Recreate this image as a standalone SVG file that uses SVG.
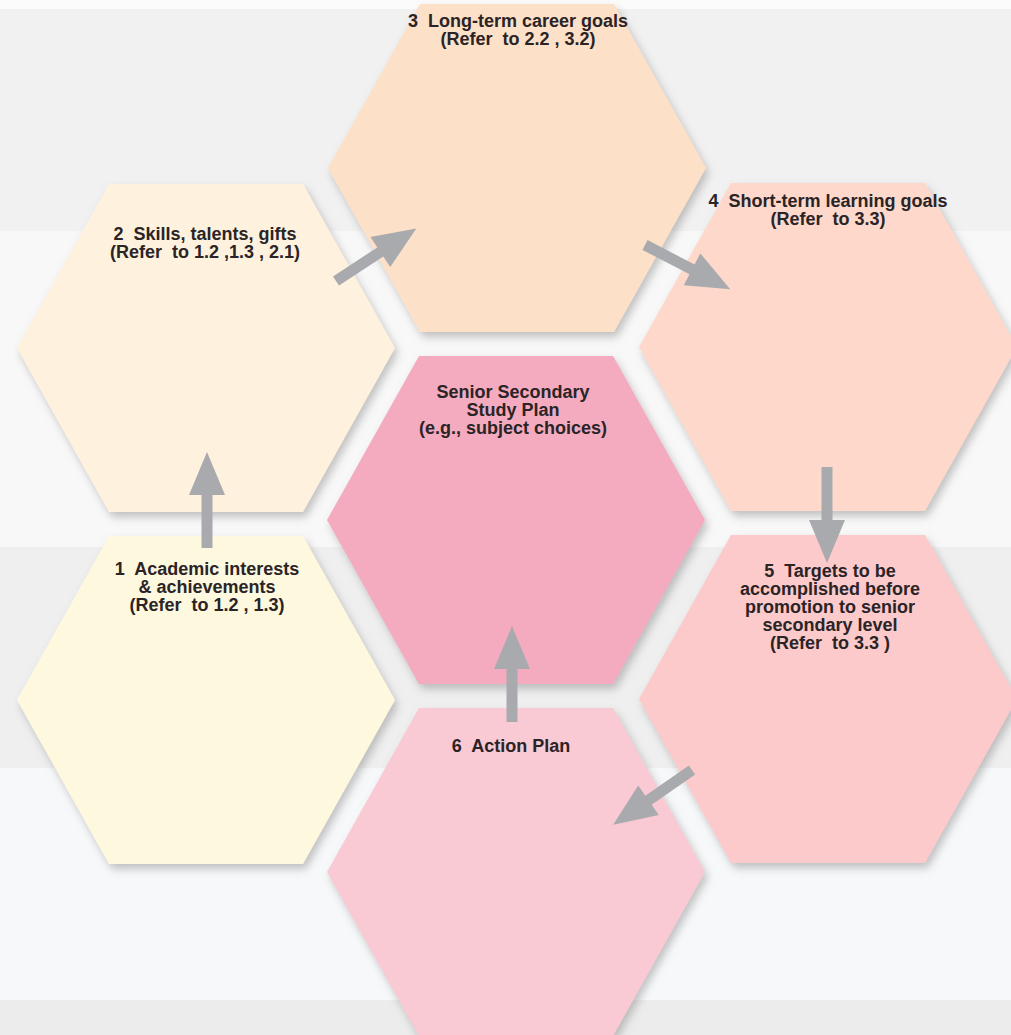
<svg xmlns="http://www.w3.org/2000/svg" xmlns:xlink="http://www.w3.org/1999/xlink" width="1011" height="1035" viewBox="0 0 1011 1035">
<style>
.lbl{font-family:"Liberation Sans",Arial,sans-serif;font-weight:bold;font-size:18px;fill:#2a2426;text-anchor:middle;white-space:pre}
.arrow{fill:#a9aaad}
</style>
<defs>
<polygon id="hex" points="-189,0 -97,-164 97,-164 189,0 97,164 -97,164"/>
<polygon id="arr" points="0,-5.5 53,-5.5 53,-18 96,0 53,18 53,5.5 0,5.5"/>
<filter id="sh" x="-10%" y="-10%" width="125%" height="125%">
<feDropShadow dx="3" dy="5" stdDeviation="4" flood-color="#7a7a7a" flood-opacity="0.45"/>
</filter>
</defs>
<g id="background">
<rect x="0" y="0" width="1011" height="1035" fill="#fbfbfb"/>
<rect x="0" y="9" width="1011" height="222" fill="#f1f1f2"/>
<rect x="0" y="231" width="1011" height="316" fill="#f8f8f9"/>
<rect x="0" y="547" width="1011" height="221" fill="#efeff0"/>
<rect x="0" y="768" width="1011" height="232" fill="#f7f8fa"/>
<rect x="0" y="1000" width="1011" height="35" fill="#ececec"/>
</g>
<g id="node3"><use xlink:href="#hex" transform="translate(517,168)" fill="#fde0c8" filter="url(#sh)"/>
<text class="lbl" x="518" y="27" xml:space="preserve">3  Long-term career goals</text>
<text class="lbl" x="518" y="45" xml:space="preserve">(Refer  to 2.2 , 3.2)</text></g>
<g id="node2"><use xlink:href="#hex" transform="translate(206,348)" fill="#fef1dd" filter="url(#sh)"/>
<text class="lbl" x="205" y="240" xml:space="preserve">2  Skills, talents, gifts</text>
<text class="lbl" x="205" y="258" xml:space="preserve">(Refer  to 1.2 ,1.3 , 2.1)</text></g>
<g id="node4"><use xlink:href="#hex" transform="translate(828,347)" fill="#fdd8cb" filter="url(#sh)"/>
<text class="lbl" x="828" y="207" xml:space="preserve">4  Short-term learning goals</text>
<text class="lbl" x="828" y="225" xml:space="preserve">(Refer  to 3.3)</text></g>
<g id="node-center"><use xlink:href="#hex" transform="translate(516,520)" fill="#f5abbf" filter="url(#sh)"/>
<text class="lbl" x="513" y="398">Senior Secondary</text>
<text class="lbl" x="513" y="416">Study Plan</text>
<text class="lbl" x="513" y="434">(e.g., subject choices)</text></g>
<g id="node1"><use xlink:href="#hex" transform="translate(206,700)" fill="#fef8df" filter="url(#sh)"/>
<text class="lbl" x="207" y="575" xml:space="preserve">1  Academic interests</text>
<text class="lbl" x="207" y="593">&amp; achievements</text>
<text class="lbl" x="207" y="611" xml:space="preserve">(Refer  to 1.2 , 1.3)</text></g>
<g id="node5"><use xlink:href="#hex" transform="translate(828,699)" fill="#fccaca" filter="url(#sh)"/>
<text class="lbl" x="830" y="577" xml:space="preserve">5  Targets to be</text>
<text class="lbl" x="830" y="595">accomplished before</text>
<text class="lbl" x="830" y="613">promotion to senior</text>
<text class="lbl" x="830" y="631">secondary level</text>
<text class="lbl" x="830" y="649" xml:space="preserve">(Refer  to 3.3 )</text></g>
<g id="node6"><use xlink:href="#hex" transform="translate(516,872)" fill="#f9c9d4" filter="url(#sh)"/>
<text class="lbl" x="511" y="752" xml:space="preserve">6  Action Plan</text></g>
<g id="connectors" class="arrow">
<use xlink:href="#arr" transform="translate(207,548) rotate(-90)"/>
<use xlink:href="#arr" transform="translate(336,281) rotate(-33.2)"/>
<use xlink:href="#arr" transform="translate(645,245) rotate(27.4)"/>
<use xlink:href="#arr" transform="translate(827,467) rotate(90)"/>
<use xlink:href="#arr" transform="translate(692,770) rotate(145.2)"/>
<use xlink:href="#arr" transform="translate(512,722) rotate(-90)"/>
</g>
</svg>
